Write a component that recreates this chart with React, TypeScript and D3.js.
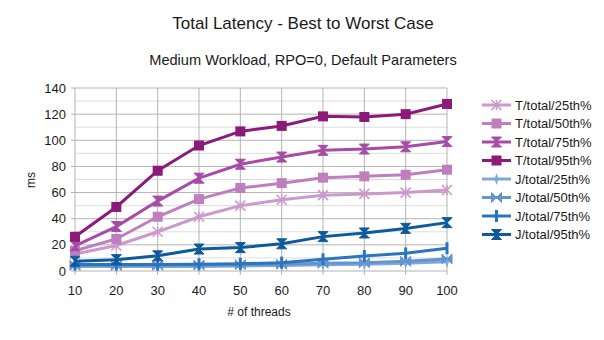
import React from "react";
import * as d3 from "d3";

const threads = [10, 20, 30, 40, 50, 60, 70, 80, 90, 100];
const yTicks = [0, 20, 40, 60, 80, 100, 120, 140];
const seriesNames = [
  "T/total/25th%",
  "T/total/50th%",
  "T/total/75th%",
  "T/total/95th%",
  "J/total/25th%",
  "J/total/50th%",
  "J/total/75th%",
  "J/total/95th%",
];
const t25 = [13, 19.5, 30, 41.5, 50, 54.5, 58, 59, 60, 62];
const t50 = [15.5, 24.5, 41.5, 55, 63.5, 67.2, 71.4, 72.4, 73.6, 77.5];
const t75 = [19.3, 34, 53.5, 71, 81.7, 87.2, 92.3, 93.3, 95, 99];
const t95 = [26.2, 49, 76.7, 96, 106.8, 111, 118.3, 117.8, 120, 127.8];
const j25 = [3.5, 3.5, 3.5, 3.5, 3.8, 4.2, 4.7, 5.2, 6, 7];
const j50 = [4.3, 4.3, 4.4, 4.5, 4.8, 5.1, 5.9, 6.3, 7.4, 9.2];
const j75 = [5, 5, 5, 5.2, 5.5, 6.4, 9, 11.5, 13.5, 17.4];
const j95 = [7.5, 8.7, 11.6, 16.8, 17.9, 20.8, 26.3, 29.1, 32.6, 37];
const allSeries = [t25, t50, t75, t95, j25, j50, j75, j95];
const colors = ["#cc99cc", "#bf7fbf", "#a64ca6", "#8b1a7a", "#7fa9dc", "#6592d1", "#2a75bd", "#0d5a9c"];
const markers = ["asterisk", "square", "hourglass", "square", "diamond", "bowtie", "vbar", "hourglass"];

const W = 604, H = 340;
const L = 75, R = 447, T = 88, B = 271;

function Marker({ type, x, y, color }: { type: string; x: number; y: number; color: string }) {
  const s = 5;
  switch (type) {
    case "square":
      return <rect x={x - s} y={y - s} width={2 * s} height={2 * s} fill={color} />;
    case "hourglass":
      return (
        <path
          d={`M${x - s},${y - s}L${x + s},${y - s}L${x - s},${y + s}L${x + s},${y + s}Z`}
          fill={color}
          stroke={color}
          strokeWidth={1}
        />
      );
    case "bowtie":
      return (
        <path
          d={`M${x - s},${y - s}L${x - s},${y + s}L${x + s},${y - s}L${x + s},${y + s}Z`}
          fill={color}
          stroke={color}
          strokeWidth={1}
        />
      );
    case "diamond":
      return <path d={`M${x},${y - s - 1}L${x + 2},${y}L${x},${y + s + 1}L${x - 2},${y}Z`} fill={color} />;
    case "vbar":
      return <rect x={x - 1.5} y={y - s - 1} width={3} height={2 * s + 2} fill={color} />;
    case "asterisk":
    default:
      return (
        <g stroke={color} strokeWidth={1.6}>
          <line x1={x - s} y1={y - s} x2={x + s} y2={y + s} />
          <line x1={x - s} y1={y + s} x2={x + s} y2={y - s} />
          <line x1={x} y1={y - s} x2={x} y2={y + s} />
        </g>
      );
  }
}

export default function App() {
  const x = d3.scaleLinear().domain([10, 100]).range([L, R]);
  const y = d3.scaleLinear().domain([0, 140]).range([B, T]);
  const line = d3
    .line<number>()
    .x((_, i) => x(threads[i]))
    .y((d) => y(d));
  const minor = d3.range(10, 140, 20);
  const font = "'Liberation Sans', Arial, sans-serif";
  return (
    <svg width={W} height={H} style={{ position: "absolute", left: 0, top: 0 }} fontFamily={font}>
      <rect width={W} height={H} fill="#fff" />
      <text x={303} y={29} textAnchor="middle" fontSize={17} fill="#1a1a1a">
        Total Latency - Best to Worst Case
      </text>
      <text x={303} y={65} textAnchor="middle" fontSize={14.6} fill="#1a1a1a">
        Medium Workload, RPO=0, Default Parameters
      </text>
      {minor.map((v) => (
        <line key={"m" + v} x1={L} x2={R} y1={y(v)} y2={y(v)} stroke="#dddddd" strokeWidth={1} />
      ))}
      {yTicks.map((v) => (
        <g key={"y" + v}>
          <line x1={L - 4} x2={R} y1={y(v)} y2={y(v)} stroke="#b3b3b3" strokeWidth={1} />
          <text x={L - 9} y={y(v) + 4.5} textAnchor="end" fontSize={13} fill="#1a1a1a">
            {v}
          </text>
        </g>
      ))}
      {threads.map((v) => (
        <g key={"x" + v}>
          <line x1={x(v)} x2={x(v)} y1={T} y2={B + 4} stroke="#b3b3b3" strokeWidth={1} />
          <text x={x(v)} y={B + 24} textAnchor="middle" fontSize={13} fill="#1a1a1a">
            {v}
          </text>
        </g>
      ))}
      <text x={259} y={316} textAnchor="middle" fontSize={12} fill="#1a1a1a">
        # of threads
      </text>
      <text transform={`translate(35,180) rotate(-90)`} textAnchor="middle" fontSize={12} fill="#1a1a1a">
        ms
      </text>
      {allSeries.map((s, i) => (
        <g key={"s" + i}>
          <path d={line(s) || ""} fill="none" stroke={colors[i]} strokeWidth={3} />
          {s.map((v, k) => (
            <Marker key={k} type={markers[i]} x={x(threads[k])} y={y(v)} color={colors[i]} />
          ))}
        </g>
      ))}
      {seriesNames.map((n, i) => {
        const ly = 105 + i * 18.5;
        return (
          <g key={"l" + i}>
            <line x1={482} x2={511} y1={ly} y2={ly} stroke={colors[i]} strokeWidth={3} />
            <Marker type={markers[i]} x={496.5} y={ly} color={colors[i]} />
            <text x={515} y={ly + 4.5} fontSize={13} fill="#1a1a1a">
              {n}
            </text>
          </g>
        );
      })}
    </svg>
  );
}
